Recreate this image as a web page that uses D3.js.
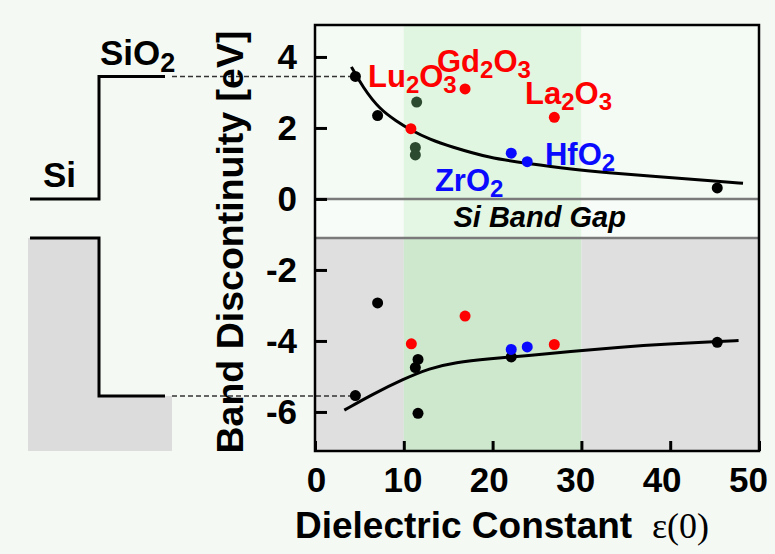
<!DOCTYPE html>
<html>
<head>
<meta charset="utf-8">
<script src="https://cdn.jsdelivr.net/npm/d3@7"></script>
<style>
  body { margin: 0; background: #f4f9f4; }
  svg { display: block; font-family: "Liberation Sans", Arial, sans-serif; }
</style>
</head>
<body>
<div id="chart"></div>
<script>
// band offsets of gate oxides on Si vs dielectric constant

var xTicks = [0, 10, 20, 30, 40, 50];
var yTicks = [4, 2, 0, -2, -4, -6];
var highK = [10, 30];            // shaded eps window
var siBands = [0, -1.1];         // Si conduction / valence edge
var sio2Bands = [3.45, -5.55];   // SiO2 conduction / valence offset

// conduction band offsets [eps, eV]
var cbBlack = [[4.55, 3.45], [7.05, 2.35], [45.3, 0.31]];
var cbGreen = [[11.45, 2.73], [11.3, 1.45], [11.3, 1.24]];
var cbRed = [[10.8, 1.98], [16.9, 3.1], [26.95, 2.3]];
var cbBlue = [[22.1, 1.29], [23.9, 1.05]];

// valence band offsets [eps, eV]
var vbBlack = [[4.55, -5.54], [7.05, -2.93], [11.6, -4.52], [11.3, -4.75], [11.6, -6.04], [22.1, -4.45], [45.3, -4.04]];
var vbRed = [[10.85, -4.08], [16.9, -3.3], [26.95, -4.1]];
var vbBlue = [[22.1, -4.24], [23.9, -4.17]];

// trend lines as drawn in the figure
var cbTrend = [[4.1, 3.72], [5.4, 3.14], [7.3, 2.52], [9.2, 2.19], [10.7, 1.95], [13, 1.67], [15.2, 1.48],
  [19.7, 1.15], [23.9, 1.0], [28.7, 0.84], [33, 0.74], [38, 0.64], [45.3, 0.5], [48.2, 0.44]];
var vbTrend = [[3.3, -5.95], [6.5, -5.5], [9.9, -5.08], [12.9, -4.77], [15.8, -4.6], [19.7, -4.5],
  [24, -4.41], [28.7, -4.3], [34, -4.18], [40, -4.08], [45.3, -4.02], [47.7, -3.99]];

// oxide names: [main, sub, main, sub], anchored at [eps, eV]
var oxideNames = [["Lu", "2", "O", "3"], ["Gd", "2", "O", "3"], ["La", "2", "O", "3"], ["Hf", "", "O", "2"], ["Zr", "", "O", "2"]];
var oxideAt = [[5.97, 3.14], [13.74, 3.59], [23.65, 2.68], [25.9, 0.97], [13.5, 0.21]];
var oxideColor = ["#ff0000", "#ff0000", "#ff0000", "#0a0aff", "#0a0aff"];

var W = 775, H = 554;
var RED = "#ff0000", BLUE = "#0a0aff";

var x = d3.scaleLinear().domain([0, 50]).range([315, 759]);
var y = d3.scaleLinear().domain([-7.1, 4.9]).range([451, 25]);

var svg = d3.select("#chart").append("svg")
    .attr("width", W)
    .attr("height", H);

svg.append("rect").attr("width", W).attr("height", H).attr("fill", "#f4f9f4");

// plot background bands
var x0 = x(0), x1 = x(50), yTop = y(4.9), yBot = y(-7.1);
var cols = [[0, highK[0]], highK, [highK[1], 50]];
var rows = [
  {top: yTop, bot: y(siBands[0]), out: "#f4faf4", inn: "#e1f6e1"},
  {top: y(siBands[0]), bot: y(siBands[1]), out: "#f8fcf8", inn: "#e4f7e4"},
  {top: y(siBands[1]), bot: yBot, out: "#dfdfdf", inn: "#cde8cd"}
];
rows.forEach(function (r) {
  cols.forEach(function (c, i) {
    svg.append("rect")
      .attr("x", x(c[0])).attr("y", r.top)
      .attr("width", x(c[1]) - x(c[0])).attr("height", r.bot - r.top)
      .attr("fill", i === 1 ? r.inn : r.out);
  });
});

// Si band edges across the plot
svg.selectAll("line.edge").data(siBands).enter().append("line")
  .attr("class", "edge")
  .attr("x1", x0).attr("x2", x1)
  .attr("y1", function (d) { return y(d); }).attr("y2", function (d) { return y(d); })
  .attr("stroke", "#7a7a7a").attr("stroke-width", 2.5);

svg.append("text")
  .attr("x", x(25.3)).attr("y", y(-0.8))
  .attr("text-anchor", "middle")
  .style("font-size", "29px").style("font-weight", "bold").style("font-style", "italic")
  .text("Si Band Gap");

// band diagram on the left
var bx = [30, 99, 165, 172];
svg.append("path")
  .attr("d", "M" + [28, y(siBands[1])] + "H" + bx[1] + "V" + y(sio2Bands[1]) + "H" + bx[3] + "V" + yBot + "H28Z")
  .attr("fill", "#dcdcdc");
[[siBands[0], sio2Bands[0]], [siBands[1], sio2Bands[1]]].forEach(function (b) {
  svg.append("path")
    .attr("d", "M" + [bx[0], y(b[0])] + "H" + bx[1] + "V" + y(b[1]) + "H" + bx[2])
    .attr("fill", "none").attr("stroke", "#000").attr("stroke-width", 3);
  svg.append("line")
    .attr("x1", bx[3]).attr("x2", x(cbBlack[0][0]))
    .attr("y1", y(b[1])).attr("y2", y(b[1]))
    .attr("stroke", "#333").attr("stroke-width", 1.5).attr("stroke-dasharray", "5,3");
});
svg.append("text").attr("x", 43).attr("y", 187)
  .style("font-size", "35px").style("font-weight", "bold").text("Si");
var sio2 = svg.append("text").attr("x", 100).attr("y", 65)
  .style("font-size", "35px").style("font-weight", "bold");
sio2.append("tspan").text("SiO");
sio2.append("tspan").attr("dy", 7).style("font-size", "27px").text("2");

// trend lines
var line = d3.line()
  .x(function (d) { return x(d[0]); })
  .y(function (d) { return y(d[1]); })
  .curve(d3.curveBasis);
[cbTrend, vbTrend].forEach(function (t) {
  svg.append("path").attr("d", line(t))
    .attr("fill", "none").attr("stroke", "#000").attr("stroke-width", 3);
});

// measured points
var groups = [
  [cbBlack, "#000"], [cbGreen, "#2c4a30"], [cbRed, RED], [cbBlue, BLUE],
  [vbBlack, "#000"], [vbRed, RED], [vbBlue, BLUE]
];
groups.forEach(function (g) {
  svg.append("g").selectAll("circle").data(g[0]).enter().append("circle")
    .attr("cx", function (d) { return x(d[0]); })
    .attr("cy", function (d) { return y(d[1]); })
    .attr("r", 5.5)
    .attr("fill", g[1]);
});

// oxide names
oxideNames.forEach(function (parts, i) {
  var t = svg.append("text")
    .attr("x", x(oxideAt[i][0])).attr("y", y(oxideAt[i][1]))
    .attr("fill", oxideColor[i])
    .style("font-size", "31px").style("font-weight", "bold");
  var shift = 0;
  parts.forEach(function (p, j) {
    if (!p) return;
    var sub = j % 2 === 1;
    var dy = (sub ? 6 : 0) - shift;
    shift = sub ? 6 : 0;
    t.append("tspan").attr("dy", dy).style("font-size", sub ? "24px" : "31px").text(p);
  });
});

// frame and axes
svg.append("rect")
  .attr("x", x0).attr("y", yTop).attr("width", x1 - x0).attr("height", yBot - yTop)
  .attr("fill", "none").attr("stroke", "#000").attr("stroke-width", 2.5);

var yAxis = svg.append("g")
  .attr("transform", "translate(" + x0 + ",0)")
  .call(d3.axisLeft(y).tickValues(yTicks).tickSize(-12).tickPadding(18)
    .tickFormat(function (d) { return String(d); }));
var xAxis = svg.append("g")
  .attr("transform", "translate(0," + yBot + ")")
  .call(d3.axisBottom(x).tickValues(xTicks).tickSize(-10).tickPadding(16)
    .tickFormat(function (d) { return String(d); }));
[yAxis, xAxis].forEach(function (a) {
  a.select(".domain").remove();
  a.selectAll(".tick line").attr("stroke", "#000").attr("stroke-width", 3);
  a.selectAll(".tick text")
    .attr("fill", "#000")
    .style("font-family", "'Liberation Sans', Arial, sans-serif")
    .style("font-size", "35px").style("font-weight", "bold");
});
// the x labels sit a little left of their ticks, more so to the right
xAxis.selectAll(".tick text").attr("dx", function (d) { return (1 - 0.24 * d) + "px"; });

svg.append("text")
  .attr("transform", "translate(243,242) rotate(-90)")
  .attr("text-anchor", "middle")
  .style("font-size", "37.5px").style("font-weight", "bold")
  .text("Band Discontinuity [eV]");
svg.append("text").attr("x", 295).attr("y", 538)
  .style("font-size", "37px").style("font-weight", "bold")
  .text("Dielectric Constant");
svg.append("text").attr("x", 652).attr("y", 538)
  .style("font-family", "'Liberation Serif', 'Times New Roman', serif")
  .style("font-size", "36px")
  .text("\u03b5(0)");
</script>
</body>
</html>
